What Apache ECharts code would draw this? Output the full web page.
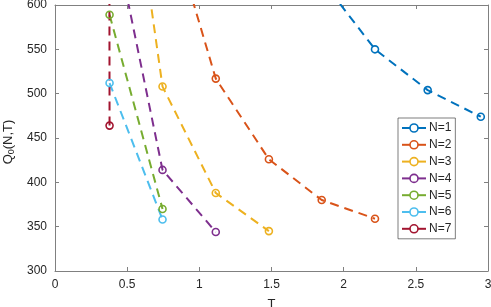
<!DOCTYPE html>
<html>
<head>
<meta charset="utf-8">
<script src="https://cdn.jsdelivr.net/npm/echarts@6/dist/echarts.min.js"></script>
<style>
  html, body { margin: 0; padding: 0; background: #fff; }
  #main { width: 491px; height: 307px; }
</style>
</head>
<body>
<div id="main"></div>
<script>
// T values (x) and Q0 values (y) per series; points above 600 are clipped by the axis
var n1 = [[1.848, 628], [2.217, 550], [2.582, 504], [2.95, 474]];
var n2 = [[0.745, 720], [1.114, 517], [1.482, 426], [1.848, 380], [2.217, 359]];
var n3 = [[0.378, 930], [0.745, 508], [1.114, 388], [1.482, 345]];
var n4 = [[0.378, 705], [0.745, 414], [1.114, 344]];
var n5 = [[0.378, 589], [0.745, 370]];
var n6 = [[0.378, 512], [0.745, 358]];
var n7 = [[0.378, 464], [0.376, 780]];

var names = ['N=1', 'N=2', 'N=3', 'N=4', 'N=5', 'N=6', 'N=7'];
var colors = ['#0072BD', '#D95319', '#EDB120', '#7E2F8E', '#77AC30', '#4DBEEE', '#A2142F'];
var allData = [n1, n2, n3, n4, n5, n6, n7];

var xTicks = [0, 3, 0.5];
var yTicks = [300, 600, 50];

var font = 'Liberation Sans, Arial, sans-serif';
var axisCol = '#808080';
var txtCol = '#262626';

var series = allData.map(function (d, i) {
    return {
        name: names[i],
        type: 'line',
        data: d,
        color: colors[i],
        symbol: 'circle',
        symbolSize: 7,
        clip: true,
        itemStyle: { color: 'transparent', borderColor: colors[i], borderWidth: 1.6 },
        lineStyle: { width: 2, type: [9, 6], color: colors[i] }
    };
});

var myChart = echarts.init(document.getElementById('main'));
var option = {
    animation: false,
    grid: { left: 55, right: 3, top: 5, bottom: 36, show: false, outerBoundsMode: 'none', containLabel: false },
    legend: {
        orient: 'vertical',
        left: 398,
        top: 118,
        padding: [4, 4, 4, 3],
        itemGap: 4.8,
        itemWidth: 24,
        itemHeight: 10,
        borderColor: '#262626',
        borderWidth: 0.6,
        backgroundColor: '#fff',
        textStyle: { fontFamily: font, fontSize: 12, color: txtCol, padding: [0, 0, 0, -2] },
        lineStyle: { type: 'solid', width: 2 },
        itemStyle: { color: '#fff', borderWidth: 1.6 },
        data: names
    },
    xAxis: [{
        type: 'value', min: xTicks[0], max: xTicks[1], interval: xTicks[2],
        name: 'T', nameLocation: 'middle', nameGap: 27,
        nameTextStyle: { fontFamily: font, fontSize: 13, color: txtCol },
        axisLine: { onZero: false, lineStyle: { color: axisCol, width: 1 } },
        axisTick: { inside: true, length: 4, lineStyle: { color: axisCol } },
        axisLabel: { fontFamily: font, fontSize: 12, color: txtCol, margin: 8 },
        splitLine: { show: false }
    }, {
        type: 'value', position: 'top', min: xTicks[0], max: xTicks[1], interval: xTicks[2],
        axisLine: { onZero: false, lineStyle: { color: axisCol, width: 1 } },
        axisTick: { inside: true, length: 4, lineStyle: { color: axisCol } },
        axisLabel: { show: false },
        splitLine: { show: false }
    }],
    yAxis: [{
        type: 'value', min: yTicks[0], max: yTicks[1], interval: yTicks[2],
        name: 'Q{sub|0}(N,T)', nameLocation: 'middle', nameGap: 38,
        nameTextStyle: {
            fontFamily: font, fontSize: 13, color: txtCol, padding: [0, 8, 0, 0],
            rich: { sub: { fontFamily: font, fontSize: 9, color: txtCol, verticalAlign: 'bottom', padding: [6, 0, 0, 0] } }
        },
        axisLine: { show: true, onZero: false, lineStyle: { color: axisCol, width: 1 } },
        axisTick: { show: true, inside: true, length: 4, lineStyle: { color: axisCol } },
        axisLabel: { fontFamily: font, fontSize: 12, color: txtCol, margin: 8 },
        splitLine: { show: false }
    }, {
        type: 'value', position: 'right', min: yTicks[0], max: yTicks[1], interval: yTicks[2],
        axisLine: { show: true, onZero: false, lineStyle: { color: axisCol, width: 1 } },
        axisTick: { show: true, inside: true, length: 4, lineStyle: { color: axisCol } },
        axisLabel: { show: false },
        splitLine: { show: false }
    }],
    series: series
};
myChart.setOption(option);
</script>
</body>
</html>
